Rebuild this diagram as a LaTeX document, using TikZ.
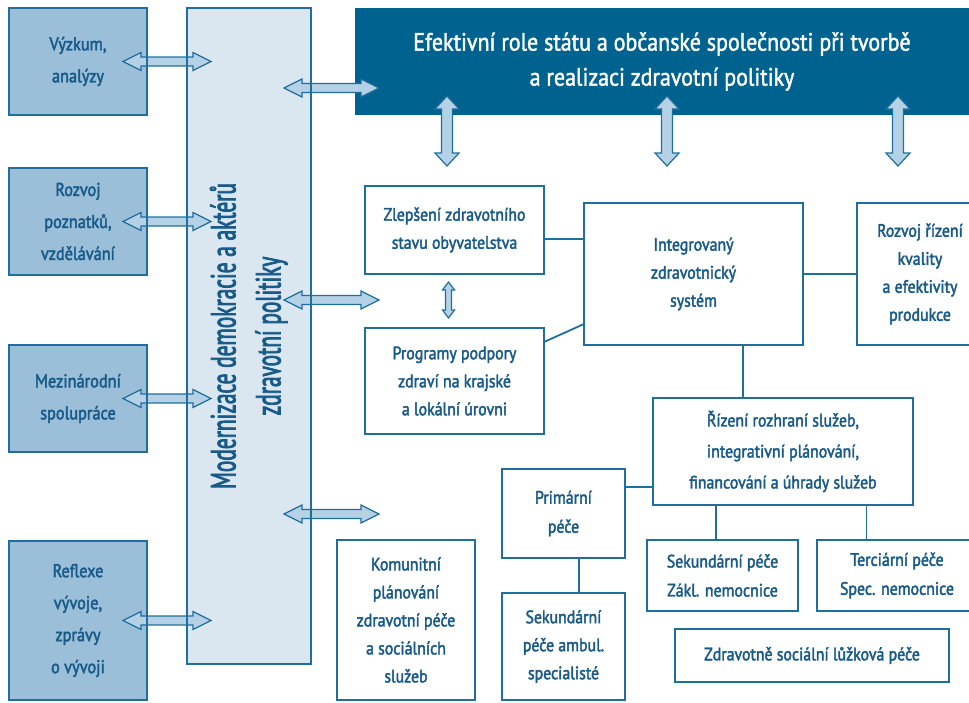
\documentclass[tikz,border=0pt]{standalone}
\usepackage{fontspec}
\setmainfont[FakeStretch=0.88, FakeBold=2.2]{PT Sans}
\newfontfamily\narrowfont[FakeStretch=0.61, FakeBold=2.2]{PT Sans}
\newfontfamily\bannerfont[FakeStretch=0.88, FakeBold=1.6]{PT Sans}
\usetikzlibrary{calc}
\definecolor{topblue}{HTML}{00628F}
\definecolor{sideblue}{HTML}{9BBFD9}
\definecolor{paleblue}{HTML}{DAE7F1}
\definecolor{arrowblue}{HTML}{B5D1E5}
\definecolor{edgeblue}{HTML}{1F6E9E}
\definecolor{textblue}{HTML}{185A88}
\tikzset{
  box/.style={draw=edgeblue, line width=1.8pt, fill=white, text=textblue,
    align=center, inner sep=0pt, outer sep=0pt, font=\fontsize{18}{28}\selectfont},
  sidebox/.style={box, fill=sideblue, minimum width=138pt, font=\fontsize{18.5}{32}\selectfont},
  topbox/.style={fill=topblue, text=white, align=center, inner sep=0pt, outer sep=0pt,
    font=\bannerfont\fontsize{25}{35}\selectfont},
  edge/.style={draw=edgeblue, line width=1.8pt},
  link/.style={draw=edgeblue, line width=1.8pt},
  blockarrow/.style={draw=edgeblue, line width=1.2pt, fill=arrowblue, line join=miter}
}
% double block arrows: horizontal (left, right) and vertical (top, bottom, head, shaft, head length)
\newcommand{\harrow}[2]{%
  \draw[blockarrow] let \p1=#1, \p2=#2 in
    (\x1,\y1) -- (\x1+18pt,\y1+9pt) -- (\x1+18pt,\y1+4.5pt) -- (\x2-18pt,\y1+4.5pt)
    -- (\x2-18pt,\y1+9pt) -- (\x2,\y1) -- (\x2-18pt,\y1-9pt) -- (\x2-18pt,\y1-4.5pt)
    -- (\x1+18pt,\y1-4.5pt) -- (\x1+18pt,\y1-9pt) -- cycle;}
\newcommand{\varrow}[5]{%
  \draw[blockarrow] let \p1=#1, \p2=#2 in
    (\x1,\y1) -- (\x1+#3,\y1-#5) -- (\x1+#4,\y1-#5) -- (\x1+#4,\y2+#5)
    -- (\x1+#3,\y2+#5) -- (\x1,\y2) -- (\x1-#3,\y2+#5) -- (\x1-#4,\y2+#5)
    -- (\x1-#4,\y1-#5) -- (\x1-#3,\y1-#5) -- cycle;}

\begin{document}
\begin{tikzpicture}[x=1pt, y=-1pt]
  \path[use as bounding box, clip] (0,0) rectangle (969,702);

  % left column
  \node[sidebox, minimum height=107pt] (vyzkum) at (78,61.5) {Výzkum,\\analýzy};
  \node[sidebox, minimum height=107pt] (rozvoj) at (78,221.5) {Rozvoj\\poznatků,\\vzdělávání};
  \node[sidebox, minimum height=107pt] (mezinar) at (78,398.5) {Mezinárodní\\spolupráce};
  \node[sidebox, minimum height=159pt] (reflexe) at (78,620.5) {Reflexe\\vývoje,\\zprávy\\o vývoji};

  \node[box, fill=paleblue, minimum width=124pt, minimum height=656pt] (central) at (249,336)
    {\rotatebox{90}{\narrowfont\fontsize{35}{45}\selectfont
     \begin{tabular}{@{}c@{}}Modernizace demokracie a aktérů\\zdravotní politiky\end{tabular}}};

  % top banner
  \node[topbox, minimum width=614pt, minimum height=107pt] (stat) at (662,61.5)
    {Efektivní role státu a občanské společnosti při tvorbě\\a realizaci zdravotní politiky};

  % boxes on the right
  \node[box, minimum width=179pt, minimum height=88pt] (zlepseni) at (454.5,230) {Zlepšení zdravotního\\stavu obyvatelstva};
  \node[box, minimum width=179pt, minimum height=106pt] (programy) at (454.5,381) {Programy podpory\\zdraví na krajské\\a lokální úrovni};
  \node[box, minimum width=219pt, minimum height=142pt] (integ) at (693.5,274) {Integrovaný\\zdravotnický\\systém};
  \node[box, minimum width=126pt, minimum height=142pt] (kvalita) at (920,274) {Rozvoj řízení\\kvality\\a efektivity\\produkce};
  \node[box, minimum width=260pt, minimum height=107pt, font=\fontsize{18}{31}\selectfont] (rizeni) at (783,451.5)
    {Řízení rozhraní služeb,\\integrativní plánování,\\financování a úhrady služeb};
  \node[box, minimum width=123pt, minimum height=89pt, font=\fontsize{18}{29}\selectfont] (primarni) at (563.5,513.5) {Primární\\péče};
  \node[box, minimum width=123pt, minimum height=107pt] (sekamb) at (563.5,646.5) {Sekundární\\péče ambul.\\specialisté};
  \node[box, minimum width=137.5pt, minimum height=160pt] (komun) at (406,620) {Komunitní\\plánování\\zdravotní péče\\a sociálních\\služeb};
  \node[box, minimum width=151pt, minimum height=71pt, font=\fontsize{18}{29}\selectfont] (sekzakl) at (722.5,575.5) {Sekundární péče\\Zákl. nemocnice};
  \node[box, minimum width=160pt, minimum height=71pt, font=\fontsize{18}{29}\selectfont] (terc) at (897,575.5) {Terciární péče\\Spec. nemocnice};
  \node[box, minimum width=274pt, minimum height=53pt] (zdrsoc) at (812,655.5) {Zdravotně sociální lůžková péče};

  % links
  \draw[link] ([yshift=-9pt]zlepseni.east) -- ([yshift=-9pt]zlepseni.east -| integ.west);
  \draw[link] ([yshift=39pt]programy.east) -- ([yshift=-50pt]integ.west);
  \draw[link] (integ.east) -- (kvalita.west);
  \draw[link] ([xshift=49.5pt]integ.south) -- ([xshift=49.5pt]integ.south |- rizeni.north);
  \draw[link] ([yshift=26.5pt]primarni.east) -- ([yshift=26.5pt]primarni.east -| rizeni.west);
  \draw[link] ([xshift=15.5pt]primarni.south) -- ([xshift=15.5pt]primarni.south |- sekamb.north);
  \draw[link] ([xshift=-67pt]rizeni.south) -- ([xshift=-67pt]rizeni.south |- sekzakl.north);
  \draw[link] ([xshift=83.5pt]rizeni.south) -- ([xshift=83.5pt]rizeni.south |- terc.north);

  % block arrows
  \foreach \b in {vyzkum,rozvoj,mezinar,reflexe}
    \harrow{([xshift=-24pt]\b.east)}{([xshift=24pt]central.west |- \b.east)};
  \foreach \yy in {88,300,514}
    \harrow{(284,\yy)}{(379,\yy)};
  \foreach \xx in {447,667,898}
    \varrow{(\xx,96)}{(\xx,166)}{12pt}{5.5pt}{13pt};
  \varrow{([xshift=-6pt,yshift=-8pt]zlepseni.south)}{([xshift=-6pt,yshift=10pt]programy.north)}{6pt}{3pt}{8pt};

  % borders over the arrows
  \foreach \b in {vyzkum,rozvoj,mezinar,reflexe,central}
    \draw[edge] (\b.south west) rectangle (\b.north east);
\end{tikzpicture}
\end{document}
